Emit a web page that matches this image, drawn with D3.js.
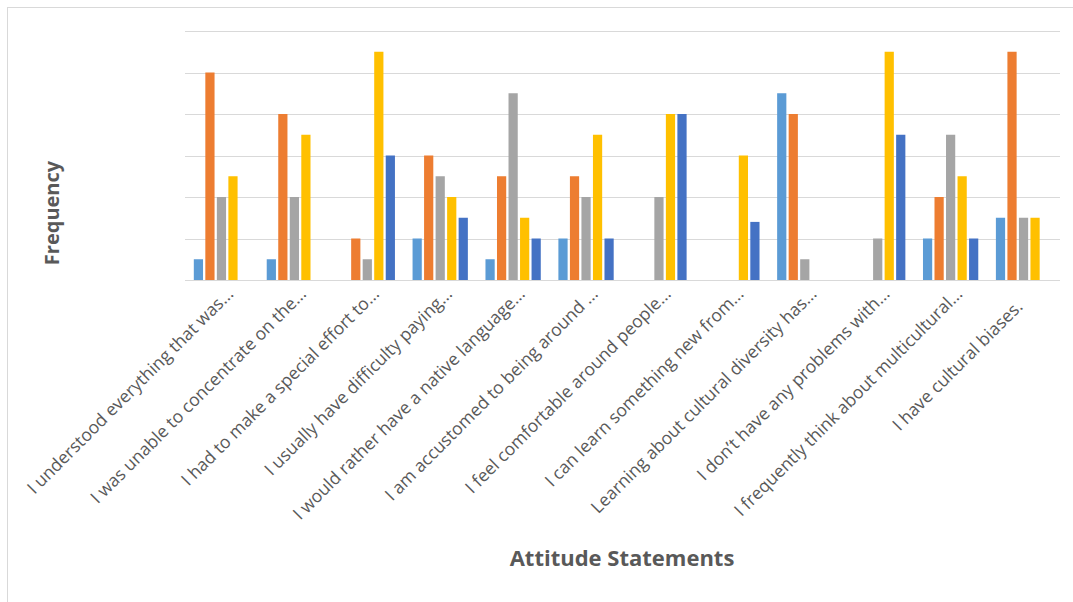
<!DOCTYPE html>
<html>
<head>
<meta charset="utf-8">
<script src="https://cdn.jsdelivr.net/npm/d3@7/dist/d3.min.js"></script>
<style>
  html, body { margin: 0; padding: 0; background: #fff; }
  svg { display: block; }
</style>
</head>
<body>
<svg id="chart" width="1073" height="602"></svg>
<script>
const categories = [
  "I understood everything that was...",
  "I was unable to concentrate on the...",
  "I had to make a special effort to...",
  "I usually have difficulty paying...",
  "I would rather have a native language...",
  "I am accustomed to being around ...",
  "I feel comfortable around people...",
  "I can learn something new from...",
  "Learning about cultural diversity has...",
  "I don\u2019t have any problems with...",
  "I frequently think about multicultural...",
  "I have cultural biases.\u00a0\u00a0\u00a0\u00a0"
];
const seriesNames = ["S1", "S2", "S3", "S4", "S5"];
const s1 = [1, 1, 0, 2, 1, 2, 0, 0, 9, 0, 2, 3];
const s2 = [10, 8, 2, 6, 5, 5, 0, 0, 8, 0, 4, 11];
const s3 = [4, 4, 1, 5, 9, 4, 4, 0, 1, 2, 7, 3];
const s4 = [5, 7, 11, 4, 3, 7, 8, 6, 0, 11, 5, 3];
const s5 = [0, 0, 6, 3, 2, 2, 8, 2.8, 0, 7, 2, 0];
const seriesValues = [s1, s2, s3, s4, s5];
const seriesColors = ["#5B9BD5", "#ED7D31", "#A5A5A5", "#FFC000", "#4472C4"];
const yTicks = [0, 2, 4, 6, 8, 10, 12];

const svg = d3.select("#chart");
const plot = { left: 185, right: 1060, top: 31, bottom: 280 };
const FONT = "'Open Sans', 'DejaVu Sans', sans-serif";

// outer frame (only top/left edges visible in the picture)
svg.append("rect")
  .attr("x", 7.5).attr("y", 7.5)
  .attr("width", 1080).attr("height", 610)
  .attr("fill", "#fff").attr("stroke", "#d9d9d9").attr("stroke-width", 1);

const x0 = d3.scaleBand().domain(categories)
  .range([plot.left, plot.right]).paddingInner(0.21).paddingOuter(0.105);
const x1 = d3.scaleBand().domain(seriesNames)
  .range([0, x0.bandwidth()]).paddingInner(0.2).paddingOuter(0.1);
const y = d3.scaleLinear().domain([0, 12]).range([plot.bottom, plot.top]);

// gridlines
svg.append("g")
  .selectAll("line").data(yTicks).join("line")
  .attr("x1", plot.left).attr("x2", plot.right)
  .attr("y1", d => Math.round(y(d)) + 0.5).attr("y2", d => Math.round(y(d)) + 0.5)
  .attr("stroke", "#d9d9d9").attr("stroke-width", 1.2);

// bars
const groups = svg.append("g").selectAll("g").data(categories).join("g")
  .attr("transform", d => `translate(${x0(d)},0)`);
groups.selectAll("rect")
  .data((c, i) => seriesNames.map((s, j) => ({ s, v: seriesValues[j][i], color: seriesColors[j] })))
  .join("rect")
  .filter(d => d.v > 0)
  .attr("x", d => x1(d.s))
  .attr("width", x1.bandwidth())
  .attr("y", d => y(d.v))
  .attr("height", d => y(0) - y(d.v))
  .attr("fill", d => d.color);

// x axis labels
const xAxis = d3.axisBottom(x0).tickSize(0).tickPadding(0);
const gx = svg.append("g").attr("transform", `translate(0,${plot.bottom})`).call(xAxis);
gx.select(".domain").remove();
gx.selectAll("text")
  .attr("xml:space", "preserve")
  .attr("font-family", FONT)
  .attr("font-size", 17.5)
  .attr("fill", "#595959")
  .attr("text-anchor", "end")
  .attr("dy", "0")
  .style("white-space", "pre")
  .attr("transform", "translate(13,15) rotate(-45)");

// axis titles
svg.append("text")
  .attr("transform", "translate(59,213) rotate(-90)")
  .attr("text-anchor", "middle")
  .attr("font-family", FONT)
  .attr("font-weight", "bold").attr("font-size", 20)
  .attr("fill", "#595959")
  .text("Frequency");

svg.append("text")
  .attr("x", 622).attr("y", 566)
  .attr("text-anchor", "middle")
  .attr("font-family", FONT)
  .attr("font-weight", "bold").attr("font-size", 22)
  .attr("fill", "#595959")
  .text("Attitude Statements");
</script>
</body>
</html>
